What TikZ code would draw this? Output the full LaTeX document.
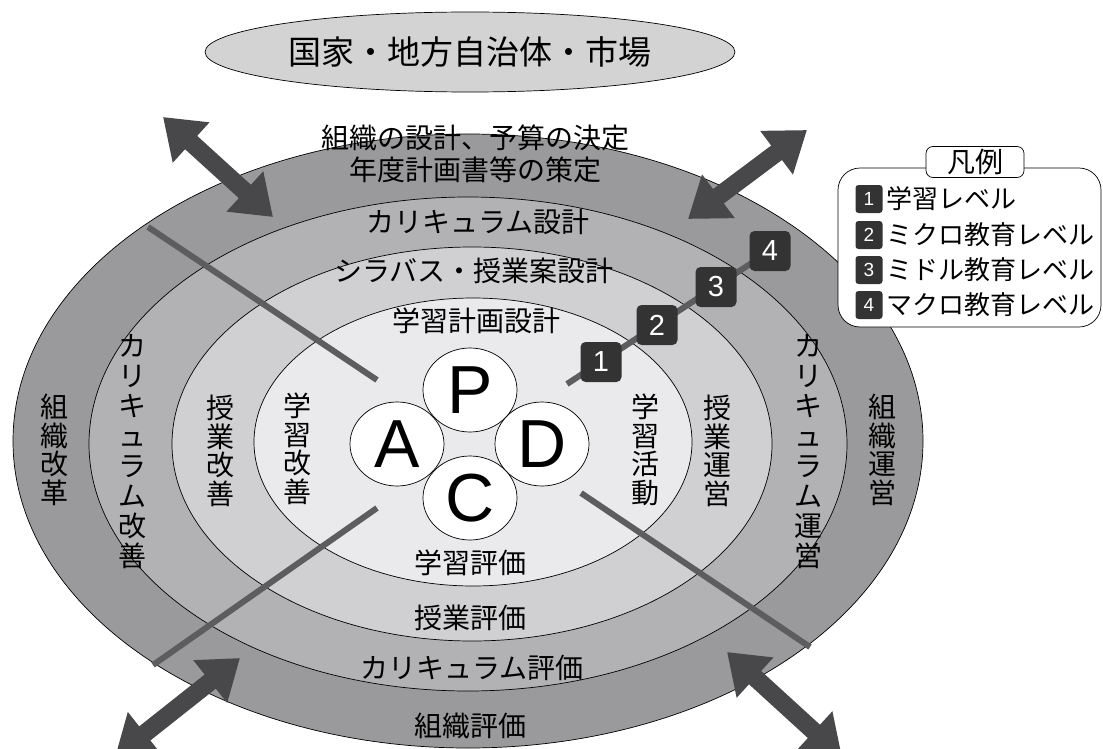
\documentclass[tikz,border=0pt]{standalone}
\usepackage{fontspec}
\setmainfont{Noto Sans CJK JP}
\newfontfamily\lat{Liberation Sans}
\usetikzlibrary{arrows.meta,shapes.geometric}
\definecolor{ringA}{HTML}{9A9A9C}
\definecolor{ringB}{HTML}{B2B2B4}
\definecolor{ringC}{HTML}{D0D0D2}
\definecolor{ringD}{HTML}{EAEAEC}
\definecolor{topfill}{HTML}{D3D3D3}
\definecolor{crossgray}{HTML}{5D5D5F}
\definecolor{arrowgray}{HTML}{48484A}
\definecolor{boxdark}{HTML}{333333}
\begin{document}
\begin{tikzpicture}[x=1pt,y=-1pt,
  ring/.style={draw=black,line width=0.7pt},
  lbl/.style={font=\fontsize{28}{28}\selectfont,inner sep=0pt},
  vlbl/.style={font=\fontsize{28}{28.5}\selectfont,align=center,inner sep=0pt},
  vlblw/.style={font=\fontsize{28}{30}\selectfont,align=center,inner sep=0pt},
  pdca/.style={ellipse,draw=black,fill=white,line width=0.7pt,minimum width=94pt,minimum height=84pt,inner sep=0pt,font=\lat\fontsize{68}{68}\selectfont},
  cross/.style={draw=crossgray,line width=6pt},
  fat/.style={draw=arrowgray,line width=18pt,{Triangle[width=52pt,length=38pt]}-{Triangle[width=52pt,length=38pt]}},
  lvbox/.style={fill=boxdark,rounded corners=5pt,minimum width=41pt,minimum height=40pt,inner sep=0pt,text=white,font=\lat\fontsize{29}{29}\selectfont},
  legbox/.style={fill=boxdark,rounded corners=3pt,minimum width=27pt,minimum height=28pt,inner sep=0pt,text=white,font=\lat\fontsize{19}{19}\selectfont},
  legtext/.style={anchor=west,inner sep=0pt,font=\fontsize{26}{26}\selectfont}]
\useasboundingbox (0,0) rectangle (1103,749);

% top ellipse
\node[ellipse,draw=black,fill=topfill,line width=0.7pt,minimum width=530pt,minimum height=80pt,inner sep=0pt,font=\fontsize{33}{33}\selectfont] (state) at (470,52) {国家・地方自治体・市場};

% rings
\fill[ringA] (468,441) ellipse [x radius=455pt,y radius=307pt];
\draw[ring] (468,441) ellipse [x radius=455pt,y radius=307pt];
\fill[ringB] (468,444) ellipse [x radius=379pt,y radius=247pt];
\draw[ring] (468,444) ellipse [x radius=379pt,y radius=247pt];
\fill[ringC] (472,444) ellipse [x radius=300pt,y radius=197pt];
\draw[ring] (472,444) ellipse [x radius=300pt,y radius=197pt];
\fill[ringD] (473,442) ellipse [x radius=219pt,y radius=144pt];
\draw[ring] (473,442) ellipse [x radius=219pt,y radius=144pt];

% cross lines
\coordinate (ulA) at (148,227); \coordinate (ulB) at (377,380);
\coordinate (llA) at (377,508); \coordinate (llB) at (153,665);
\coordinate (lrA) at (581,493); \coordinate (lrB) at (810,647);
\draw[cross] (ulA) -- (ulB);
\draw[cross] (llA) -- (llB);
\draw[cross] (lrA) -- (lrB);

% fat double arrows
\coordinate (a1s) at (163,117); \coordinate (a1e) at (273,217);
\coordinate (a2s) at (807,130); \coordinate (a2e) at (688,219);
\coordinate (a3s) at (240,658); \coordinate (a3e) at (115,757);
\coordinate (a4s) at (727,652); \coordinate (a4e) at (842,757);
\draw[fat] (a1s) -- (a1e);
\draw[fat] (a2s) -- (a2e);
\draw[fat] (a3s) -- (a3e);
\draw[fat] (a4s) -- (a4e);

% ring labels (horizontal)
\node[lbl,align=center,font=\fontsize{28}{32}\selectfont] (org) at (475,154) {組織の設計、予算の決定\\年度計画書等の策定};
\node[lbl] (curd) at (478,222) {カリキュラム設計};
\node[lbl] (syl) at (474,271) {シラバス・授業案設計};
\node[lbl] (lpd) at (476,321) {学習計画設計};
\node[lbl] (lev) at (470,563) {学習評価};
\node[lbl] (cev) at (470,618) {授業評価};
\node[lbl] (curev) at (472,668) {カリキュラム評価};
\node[lbl] (orgev) at (470,726) {組織評価};

% vertical labels
\node[vlbl] (orgref) at (54,450) {組\\織\\改\\革};
\node[vlblw] (curimp) at (132,452) {カ\\リ\\キ\\ュ\\ラ\\ム\\改\\善};
\node[vlbl] (clsimp) at (220,451) {授\\業\\改\\善};
\node[vlbl] (lrnimp) at (297,449) {学\\習\\改\\善};
\node[vlbl] (lrnact) at (645,450) {学\\習\\活\\動};
\node[vlbl] (clsop) at (717,451) {授\\業\\運\\営};
\node[vlblw] (curop) at (808,452) {カ\\リ\\キ\\ュ\\ラ\\ム\\運\\営};
\node[vlbl] (orgop) at (882,450) {組\\織\\運\\営};

% PDCA
\node[pdca] (A) at (397,444) {A};
\node[pdca] (D) at (542,444) {D};
\node[pdca] (P) at (470,390) {P};
\node[pdca] (C) at (470,498) {C};

% level line and boxes
\coordinate (lvs) at (567,384);
\coordinate (l4c) at (770,251);
\draw[draw=crossgray,line width=6pt] (lvs) -- (l4c);
\node[lvbox] (l1) at (601,362) {1};
\node[lvbox] (l2) at (657,325) {2};
\node[lvbox] (l3) at (716,287) {3};
\node[lvbox] (l4) at (l4c) {4};

% legend
\draw[fill=white,line width=0.7pt,rounded corners=22pt] (838,168) rectangle (1101,327);
\node[draw=black,fill=white,line width=0.7pt,rounded corners=7pt,minimum width=98pt,minimum height=31pt,inner sep=0pt,font=\fontsize{28}{28}\selectfont] (legtitle) at (975,162) {凡例};
\node[legbox] (k1) at (869,199) {1};
\node[legbox] (k2) at (869,235) {2};
\node[legbox] (k3) at (869,270) {3};
\node[legbox] (k4) at (869,305) {4};
\node[legtext] (t1) at (886,199) {学習レベル};
\node[legtext] (t2) at (886,235) {ミクロ教育レベル};
\node[legtext] (t3) at (886,270) {ミドル教育レベル};
\node[legtext] (t4) at (886,305) {マクロ教育レベル};
\end{tikzpicture}
\end{document}
